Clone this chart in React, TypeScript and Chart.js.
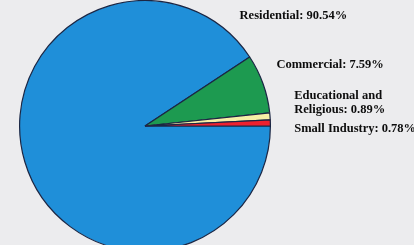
import React, { useEffect, useRef } from "react";
import { Chart, registerables } from "chart.js";

Chart.register(...registerables);

const categories = ["Residential", "Commercial", "Educational and Religious", "Small Industry"];
const shares = [90.54, 7.59, 0.89, 0.78];
const labelLines = [
  ["Residential: 90.54%"],
  ["Commercial: 7.59%"],
  ["Educational and", "Religious: 0.89%"],
  ["Small Industry: 0.78%"],
];
const colors = ["#1f8fd9", "#1d9a50", "#f7efa6", "#ee2130"];

// label anchor offsets relative to pie centre, in units of radius
const labelOffsets = [
  [0.754, -0.881],
  [1.048, -0.492],
  [1.19, -0.238],
  [1.19, 0.024],
];

const labelPlugin = {
  id: "sliceLabels",
  afterDatasetsDraw(chart: any) {
    const ctx = chart.ctx;
    const meta = chart.getDatasetMeta(0);
    const arc0 = meta.data[0];
    const cx = arc0.x;
    const cy = arc0.y;
    const r = arc0.outerRadius;
    ctx.save();
    ctx.font = "bold 12.5px 'Liberation Serif', 'Times New Roman', serif";
    ctx.fillStyle = "#0d0d0d";
    ctx.textBaseline = "middle";
    ctx.textAlign = "left";
    labelLines.forEach((lines, i) => {
      const x = cx + labelOffsets[i][0] * r;
      const y = cy + labelOffsets[i][1] * r;
      lines.forEach((line, j) => {
        ctx.fillText(line, x, y + j * 14);
      });
    });
    ctx.restore();
  },
};

export default function App() {
  const ref = useRef<HTMLCanvasElement>(null);
  useEffect(() => {
    document.body.style.margin = "0";
    document.body.style.overflow = "hidden";
    document.documentElement.style.overflow = "hidden";
    document.body.style.background = "#ececee";
    const chart = new Chart(ref.current!, {
      type: "pie",
      data: {
        labels: categories,
        datasets: [
          {
            data: shares,
            backgroundColor: colors,
            borderColor: "#1b2644",
            borderWidth: 1.2,
          },
        ],
      },
      options: {
        animation: false,
        responsive: true,
        maintainAspectRatio: false,
        rotation: 90,
        layout: { padding: { left: 19, right: 143, top: 0, bottom: 0 } },
        plugins: {
          legend: { display: false },
          tooltip: { enabled: false },
          title: { display: false },
        },
      },
      plugins: [labelPlugin],
    });
    return () => chart.destroy();
  }, []);
  return (
    <div style={{ width: 414, height: 252, position: "relative", background: "#ececee" }}>
      <canvas ref={ref} />
    </div>
  );
}
